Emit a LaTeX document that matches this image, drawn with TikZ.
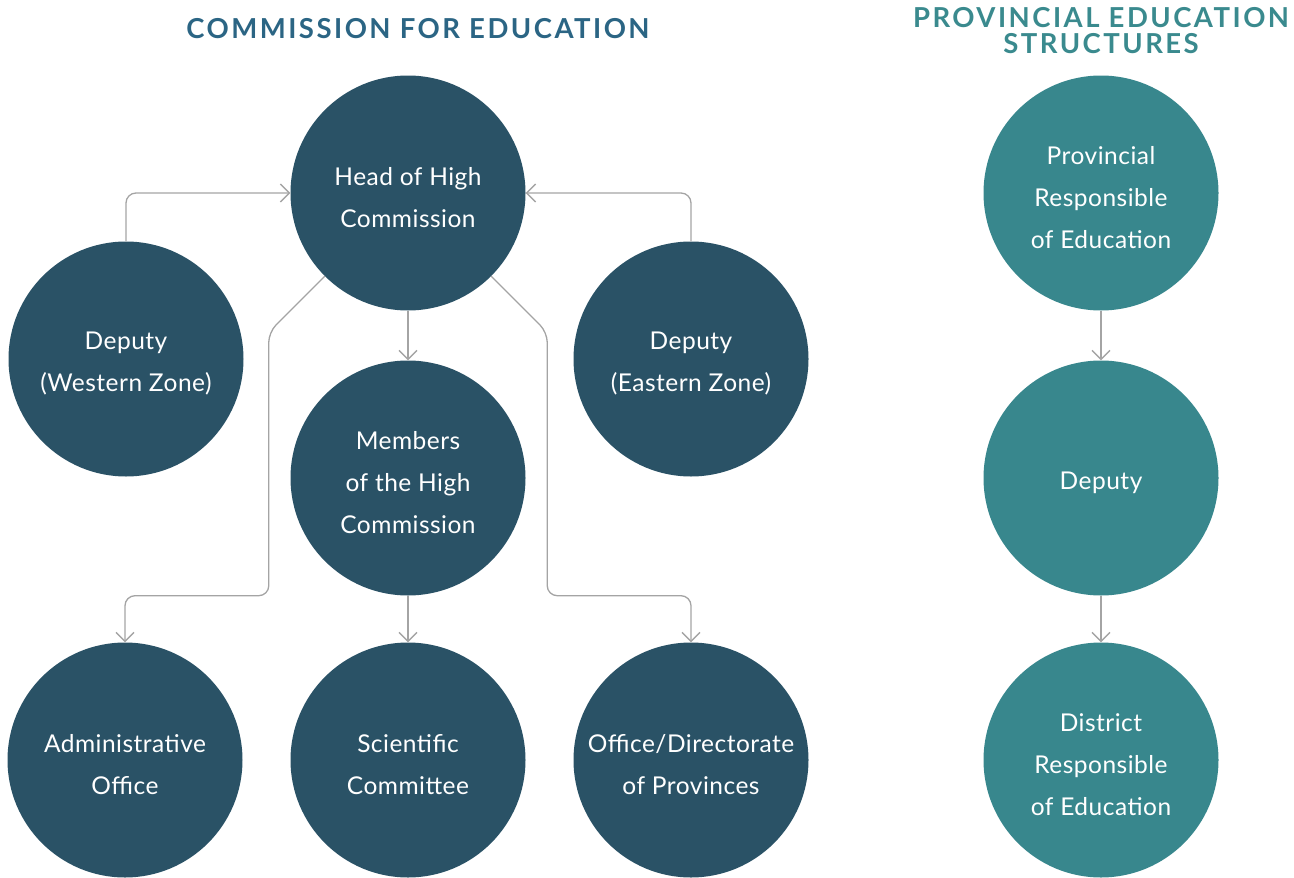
\documentclass[tikz,border=0pt]{standalone}
\usepackage{fontspec}
\setmainfont{Lato}[LetterSpace=2]
\newfontfamily\titlefont{Lato}[LetterSpace=9]
\usetikzlibrary{arrows.meta}
\definecolor{darkc}{HTML}{2A5266}
\definecolor{tealc}{HTML}{38878D}
\definecolor{titleL}{HTML}{2B6584}
\definecolor{titleR}{HTML}{3A8A8E}
\definecolor{linec}{HTML}{A4A4A4}
\newcommand{\fl}{\rule{0pt}{26.5pt}}
\begin{document}
\begin{tikzpicture}[x=1pt,y=-1pt,
  circ/.style={circle,minimum size=235pt,inner sep=0pt,text=white,align=center,
    font=\fontsize{24.5}{42}\selectfont},
  dk/.style={circ,fill=darkc},
  tl/.style={circ,fill=tealc},
  conn/.style={draw=linec,line width=1.3pt,rounded corners=10pt,
    -{Straight Barb[length=9pt,width=18pt,line width=1.3pt]}},
  ttl/.style={font=\titlefont\fontsize{27.5}{26}\selectfont\bfseries,align=center}
]
\useasboundingbox (0,0) rectangle (1294,878);
\node[ttl,text=titleL] (t1) at (418,29) {COMMISSION FOR EDUCATION};
\node[ttl,text=titleR] (t2) at (1101,31) {PROVINCIAL EDUCATION\\STRUCTURES};

\node[dk] (head) at (408,193) {\fl Head of High\\Commission};
\node[dk] (west) at (126,359) {\fl Deputy\\(Western Zone)};
\node[dk] (east) at (691,359) {\fl Deputy\\(Eastern Zone)};
\node[dk] (mem) at (408,478) {\fl Members\\of the High\\Commission};
\node[dk] (adm) at (125,760) {\fl Administrative\\Office};
\node[dk] (sci) at (408,760) {\fl Scientific\\Committee};
\node[dk] (off) at (691,760) {\fl Office/Directorate\\of Provinces};

\node[tl] (p1) at (1101,193) {\fl Provincial\\Responsible\\of Education};
\node[tl] (p2) at (1101,478) {\fl Deputy};
\node[tl] (p3) at (1101,760) {\fl District\\Responsible\\of Education};

\draw[conn] (west.north) |- (head.west);
\draw[conn] (east.north) |- (head.east);
\draw[conn] (head.south) -- (mem.north);
\draw[conn] (mem.south) -- (sci.north);
\draw[conn] (head.225) -- ++(-56,56) |- (adm.north |- mem.south) -- (adm.north);
\draw[conn] (head.-45) -- ++(56,56) |- (off.north |- mem.south) -- (off.north);
\draw[conn] (p1.south) -- (p2.north);
\draw[conn] (p2.south) -- (p3.north);
\end{tikzpicture}
\end{document}
